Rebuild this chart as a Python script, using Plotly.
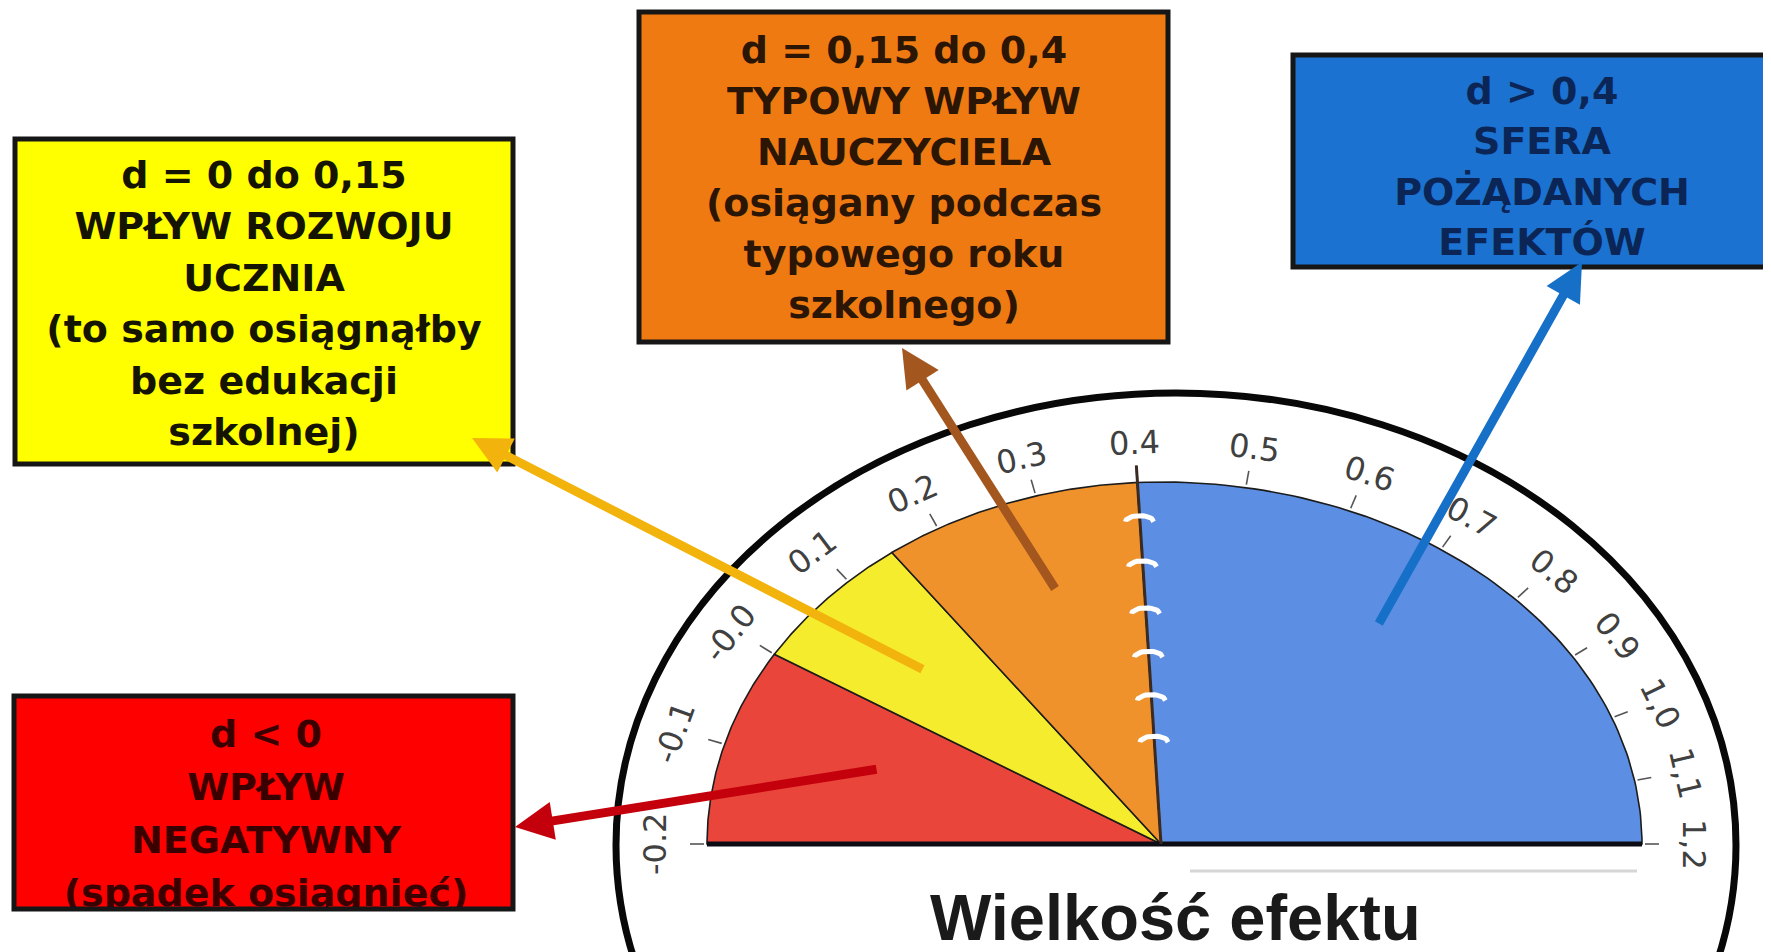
import numpy as np
import plotly.graph_objects as go

# ---------------- data ----------------
zone_start = [-0.2, 0.0, 0.15, 0.4]
zone_end = [0.0, 0.15, 0.4, 1.2]
zone_fill = ["#E9453A", "#F6EC2E", "#F0922C", "#5C8FE3"]

tick_values = [-0.2, -0.1, 0.0, 0.1, 0.2, 0.3, 0.4, 0.5, 0.6, 0.7, 0.8, 0.9, 1.0, 1.1, 1.2]
tick_labels = ["-0.2", "-0.1", "-0.0", "0.1", "0.2", "0.3", "0.4", "0.5", "0.6",
               "0.7", "0.8", "0.9", "1,0", "1,1", "1,2"]

red_lines = ["d < 0", "WPŁYW", "NEGATYWNY", "(spadek osiągnięć)"]
yellow_lines = ["d = 0 do 0,15", "WPŁYW ROZWOJU", "UCZNIA", "(to samo osiągnąłby",
                "bez edukacji", "szkolnej)"]
orange_lines = ["d = 0,15 do 0,4", "TYPOWY WPŁYW", "NAUCZYCIELA", "(osiągany podczas",
                "typowego roku", "szkolnego)"]
blue_lines = ["d > 0,4", "SFERA", "POŻĄDANYCH", "EFEKTÓW"]
title_text = "Wielkość efektu"

# ---------------- geometry / style ----------------
W, H = 1771, 952
OFF = 8                      # page body margin compensation
CX, CY = 1161, 844           # apex of the gauge
RXL, RXR, RY = 454, 481, 362
ANG_MIN, ANG_MID = 180.0, 93.0
V_MIN, V_MID, V_MAX = -0.2, 0.4, 1.2
BEND_LEFT, BEND_RIGHT = 3.0, 4.0   # slight non-linearity of the printed dial


def val2ang(v):
    if v <= V_MID:
        u = (v - V_MIN) / (V_MID - V_MIN)
        return ANG_MIN - (ANG_MIN - ANG_MID) * u - BEND_LEFT * np.sin(np.pi * u)
    u = (v - V_MID) / (V_MAX - V_MID)
    return ANG_MID * (1.0 - u) - BEND_RIGHT * np.sin(np.pi * u)


def polar(v, dr=0.0, drx=None, frac=1.0):
    t = np.radians(val2ang(v))
    c, s = np.cos(t), np.sin(t)
    if drx is None:
        drx = dr
    rx = (RXL if c < 0 else RXR) + drx
    ry = RY + dr
    return CX + c * rx * frac, CY - s * ry * frac


fig = go.Figure()

# wedges
for a, b, col in zip(zone_start, zone_end, zone_fill):
    vs = np.linspace(a, b, 90)
    pts = [polar(v) for v in vs]
    xs = [CX] + [p[0] for p in pts] + [CX]
    ys = [CY] + [p[1] for p in pts] + [CY]
    fig.add_trace(go.Scatter(x=xs, y=ys, fill="toself", fillcolor=col, mode="lines",
                             line=dict(color="#1c1c1c", width=1.6), hoverinfo="skip"))

# base line
x0b, _ = polar(V_MIN)
x1b, _ = polar(V_MAX)
fig.add_trace(go.Scatter(x=[x0b, CX, x1b], y=[CY, CY, CY], mode="lines",
                         line=dict(color="#0c0c14", width=5), hoverinfo="skip"))

# tick marks
tx, ty = [], []
for v in tick_values:
    p1 = polar(v, 3)
    p2 = polar(v, 17)
    tx += [p1[0], p2[0], None]
    ty += [p1[1], p2[1], None]
fig.add_trace(go.Scatter(x=tx, y=ty, mode="lines", line=dict(color="#555555", width=1.6),
                         hoverinfo="skip"))

# 0.4 divider with stitches
top04 = polar(V_MID, 17)
fig.add_trace(go.Scatter(x=[CX, top04[0]], y=[CY, top04[1]], mode="lines",
                         line=dict(color="#3a2a22", width=3), hoverinfo="skip"))
STITCH_FRAC = [0.29, 0.405, 0.525, 0.645, 0.775, 0.90]
sx, sy = [], []
aa = np.linspace(0, np.pi, 20)
for f in STITCH_FRAC:
    cx_, cy_ = polar(V_MID, frac=f)
    sx += list(cx_ + 14 * np.cos(aa)) + [None]
    sy += list(cy_ + 3 - 6 * np.sin(aa)) + [None]
fig.add_trace(go.Scatter(x=sx, y=sy, mode="lines", line=dict(color="#ffffff", width=5),
                         hoverinfo="skip"))

# boxes
BOXES = [
    dict(lines=yellow_lines, x0=15, y0=139, x1=513, y1=464, fill="#FFFF00", tc="#141400",
         cx=264, y_first=178, pitch=51.5),
    dict(lines=orange_lines, x0=639, y0=12, x1=1168, y1=342, fill="#F07A12", tc="#2b1505",
         cx=904, y_first=53, pitch=51),
    dict(lines=blue_lines, x0=1293, y0=55, x1=1800, y1=267, fill="#1B72D0", tc="#0b2656",
         cx=1542, y_first=94, pitch=50.5),
    dict(lines=red_lines, x0=14, y0=696, x1=513, y1=909, fill="#FF0000", tc="#3a0000",
         cx=266, y_first=737, pitch=53),
]
shapes = []
for bx in BOXES:
    shapes.append(dict(type="rect", xref="x", yref="y", x0=bx["x0"], x1=bx["x1"],
                       y0=bx["y0"], y1=bx["y1"], fillcolor=bx["fill"],
                       line=dict(width=0), layer="below"))
    ys = [bx["y_first"] + i * bx["pitch"] for i in range(len(bx["lines"]))]
    fig.add_trace(go.Scatter(x=[bx["cx"]] * len(ys), y=ys, mode="text", text=bx["lines"],
                             textposition="middle center",
                             textfont=dict(family="DejaVu Sans", size=38, color=bx["tc"],
                                           weight="bold"),
                             hoverinfo="skip"))

# masks for clipped text below boxes
shapes.append(dict(type="rect", xref="x", yref="y", x0=0, x1=540, y0=911, y1=H + OFF,
                   fillcolor="white", line=dict(width=0), layer="above"))
shapes.append(dict(type="rect", xref="x", yref="y", x0=1290, x1=W + OFF, y0=269, y1=300,
                   fillcolor="white", line=dict(width=0), layer="above"))
for bx in BOXES:
    shapes.append(dict(type="rect", xref="x", yref="y", x0=bx["x0"], x1=bx["x1"],
                       y0=bx["y0"], y1=bx["y1"], fillcolor="rgba(0,0,0,0)",
                       line=dict(color="#161616", width=5), layer="above"))

# outer arc
ARC_CX, ARC_CY, ARC_RX, ARC_RY = 1176, 845, 560, 452
shapes.append(dict(type="circle", xref="x", yref="y", x0=ARC_CX - ARC_RX, x1=ARC_CX + ARC_RX,
                   y0=ARC_CY - ARC_RY, y1=ARC_CY + ARC_RY, line=dict(color="#080808", width=7),
                   fillcolor="rgba(0,0,0,0)", layer="below"))
# faint line under the gauge
shapes.append(dict(type="line", xref="x", yref="y", x0=1190, x1=1637, y0=871, y1=871,
                   line=dict(color="#d6d6d6", width=3), layer="below"))

annotations = []
# tick labels
for v, lab in zip(tick_values, tick_labels):
    t = np.radians(val2ang(v))
    c, s = np.cos(t), np.sin(t)
    drx = 52
    dry = 40
    rx = (RXL if c < 0 else RXR) + drx
    ry = RY + dry
    x = CX + c * rx
    y = CY - s * ry
    ang = np.degrees(np.arctan2(ry * c, rx * max(s, 1e-9)))
    annotations.append(dict(x=x, y=y, xref="x", yref="y", text=lab, showarrow=False,
                            textangle=float(ang),
                            font=dict(family="DejaVu Sans", size=32, color="#404040")))

# title
annotations.append(dict(x=1175, y=917, xref="x", yref="y", text="<b>" + title_text + "</b>",
                        showarrow=False,
                        font=dict(family="Liberation Sans", size=65, color="#1a1a1a")))

# arrows (tail -> head)
ARROWS = [
    dict(tail=(924, 670), head=(472, 438), color="#F2B40C"),
    dict(tail=(1056, 590), head=(902, 348), color="#A4561F"),
    dict(tail=(1378, 625), head=(1582, 262), color="#1670C8"),
    dict(tail=(878, 769), head=(515, 827), color="#C4000C"),
]
for ar in ARROWS:
    annotations.append(dict(x=ar["head"][0], y=ar["head"][1], ax=ar["tail"][0], ay=ar["tail"][1],
                            xref="x", yref="y", axref="x", ayref="y", text="",
                            showarrow=True, arrowhead=2, arrowsize=0.85, arrowwidth=9,
                            arrowcolor=ar["color"], standoff=0))

fig.update_layout(
    width=W, height=H, margin=dict(l=0, r=0, t=0, b=0),
    paper_bgcolor="white", plot_bgcolor="white", showlegend=False,
    xaxis=dict(range=[OFF, W + OFF], visible=False, fixedrange=True),
    yaxis=dict(range=[H + OFF, OFF], visible=False, fixedrange=True),
    shapes=shapes, annotations=annotations,
)

fig.write_html("out.html")
